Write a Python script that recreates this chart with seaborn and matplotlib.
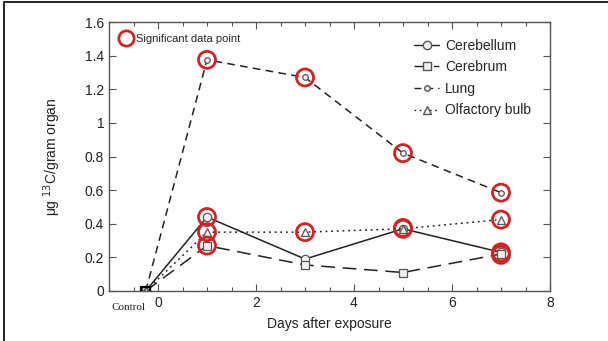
import matplotlib
matplotlib.use("Agg")
import matplotlib.pyplot as plt
from matplotlib.lines import Line2D
from matplotlib.ticker import MultipleLocator
import seaborn as sns
import pandas as pd

sns.set_style("ticks")
plt.rcParams['font.family'] = ['Liberation Sans', 'DejaVu Sans']

days = [-0.25, 1, 3, 5, 7]
cerebellum = [0.0, 0.44, 0.19, 0.37, 0.23]
cerebrum = [0.0, 0.27, 0.155, 0.11, 0.22]
lung = [0.0, 1.375, 1.27, 0.82, 0.585]
olfactory = [0.0, 0.35, 0.35, 0.37, 0.425]

sig_days = [1, 3, 5, 7, 1, 5, 7, 1, 3, 5, 7, 1, 7]
sig_vals = [1.375, 1.27, 0.82, 0.585, 0.44, 0.37, 0.23, 0.35, 0.35, 0.375, 0.425, 0.27, 0.215]

series = {
    "Cerebellum": cerebellum,
    "Cerebrum": cerebrum,
    "Lung": lung,
    "Olfactory bulb": olfactory,
}
styles = {
    "Cerebellum": dict(linestyle='-', marker='o', ms=6),
    "Cerebrum": dict(linestyle=(0, (9, 5)), marker='s', ms=6),
    "Lung": dict(linestyle=(0, (5, 3.5)), marker='o', ms=4),
    "Olfactory bulb": dict(linestyle=(0, (1.2, 2.5)), marker='^', ms=6),
}

fig = plt.figure(figsize=(6.08, 3.41), dpi=100)
ax = fig.add_axes([109/608, 1-291/341, (550-109)/608, (291-22)/341])

line_color = '#222222'
mk_edge = '#555555'
for name, vals in series.items():
    df = pd.DataFrame({"day": days, "val": vals})
    st = styles[name]
    sns.lineplot(data=df, x="day", y="val", ax=ax, color=line_color,
                 linestyle=st['linestyle'], linewidth=1.1, marker=st['marker'],
                 markersize=st['ms'], markerfacecolor='#f2f2f2',
                 markeredgecolor=mk_edge, markeredgewidth=0.9, legend=False)

sig_df = pd.DataFrame({"day": sig_days, "val": sig_vals})
sns.scatterplot(data=sig_df, x="day", y="val", ax=ax, marker='o', s=150,
                facecolor='none', edgecolor='#d42222', linewidth=2.0, zorder=5,
                legend=False)

# control point (black square)
ctrl = pd.DataFrame({"day": [days[0]], "val": [0.0]})
sns.scatterplot(data=ctrl, x="day", y="val", ax=ax, marker='s', s=40,
                facecolor='none', edgecolor='black', linewidth=1.6, zorder=6,
                legend=False)

ax.set_xlim(-1, 8)
ax.set_ylim(0, 1.6)
ax.xaxis.set_major_locator(MultipleLocator(2))
ax.xaxis.set_minor_locator(MultipleLocator(0.5))
ax.set_yticks([0, 0.2, 0.4, 0.6, 0.8, 1.0, 1.2, 1.4, 1.6])
ax.set_yticklabels(['0', '0.2', '0.4', '0.6', '0.8', '1', '1.2', '1.4', '1.6'])
ax.set_xticks([0, 2, 4, 6, 8])
ax.set_xticklabels(['0', '2', '4', '6', '8'])
ax.tick_params(which='both', direction='in', top=True, right=True,
               colors='#555555', labelcolor='#222222', labelsize=10)
ax.tick_params(which='major', length=5, width=0.8)
ax.tick_params(which='minor', length=3, width=0.8)
for sp in ax.spines.values():
    sp.set_color('#555555')
    sp.set_linewidth(1.0)

ax.set_xlabel("Days after exposure", fontsize=10, color='#222222', labelpad=5)
ax.set_ylabel(r"μg $^{13}$C/gram organ", fontsize=10, color='#222222', labelpad=16)

ax.text(days[0], -0.045, "Control", transform=ax.get_xaxis_transform(),
        ha='right', va='top', fontsize=8, family='Liberation Serif', color='#222222')

handles = []
for name in series:
    st = styles[name]
    handles.append(Line2D([], [], color=line_color, linestyle=st['linestyle'],
                          linewidth=1.0, marker=st['marker'], markersize=st['ms'],
                          markerfacecolor='#f2f2f2', markeredgecolor=mk_edge))
leg1 = ax.legend(handles, list(series.keys()), loc='upper right',
                 bbox_to_anchor=(0.985, 0.985), frameon=False, fontsize=10,
                 handlelength=1.8, handletextpad=0.4, labelspacing=0.55)
ax.add_artist(leg1)
sig_handle = Line2D([], [], linestyle='none', marker='o', markersize=11,
                    markerfacecolor='none', markeredgecolor='#d42222', markeredgewidth=2)
ax.legend([sig_handle], ["Significant data point"], loc='upper left',
          bbox_to_anchor=(-0.01, 1.0), frameon=False, fontsize=8,
          handletextpad=0.15, borderpad=0.6, handlelength=1.6)

fig.add_artist(Line2D([4/608, 4/608], [0, 1-2/341], color='black', linewidth=1.2))
fig.add_artist(Line2D([4/608, 1], [1-2/341, 1-2/341], color='black', linewidth=1.2))

fig.savefig("out.png", dpi=100)
